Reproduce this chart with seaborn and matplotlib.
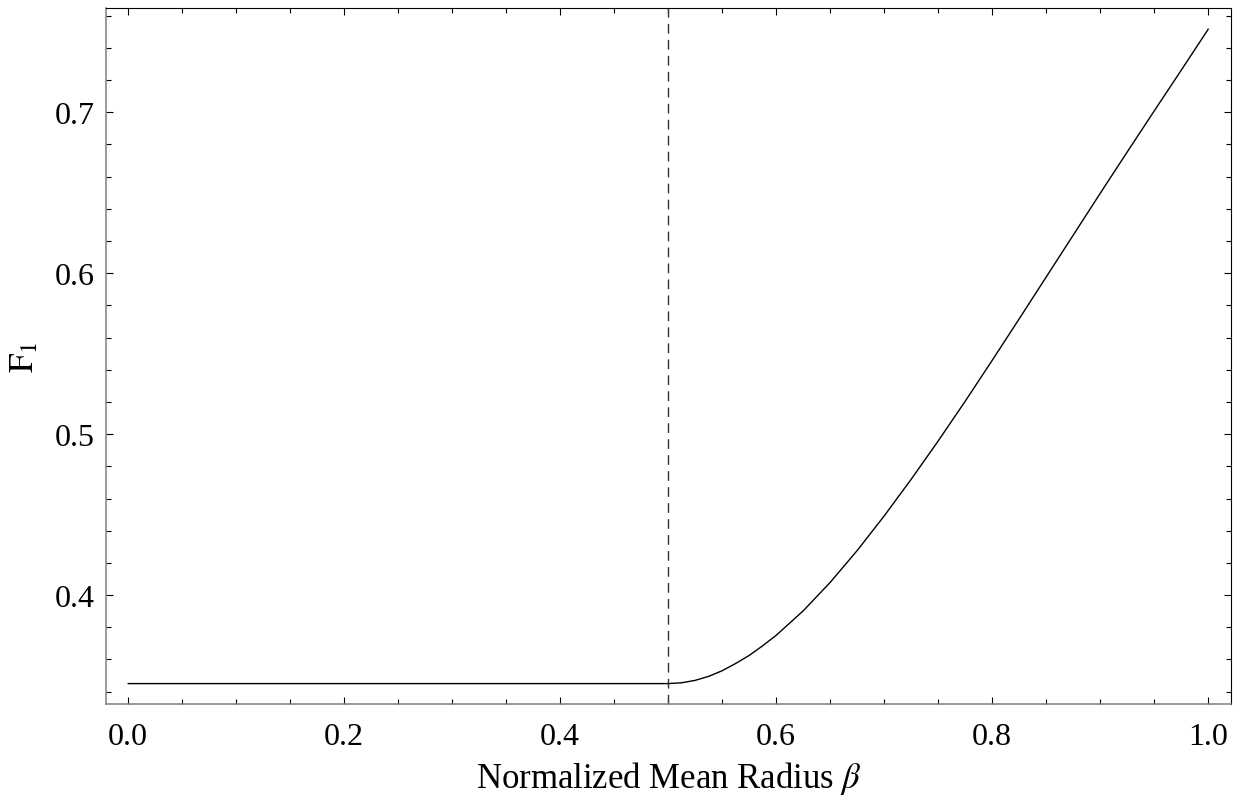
import matplotlib
matplotlib.use("Agg")
import matplotlib.pyplot as plt
import seaborn as sns
import pandas as pd
from matplotlib.ticker import MultipleLocator

# values
beta = [0.0, 0.5, 0.5125, 0.525, 0.5375, 0.55, 0.5625, 0.575, 0.5875, 0.6,
        0.625, 0.65, 0.675, 0.7, 0.725, 0.75, 0.775, 0.8, 0.825, 0.85,
        0.875, 0.9, 0.925, 0.95, 0.975, 1.0]
f1 = [0.345, 0.345, 0.3455, 0.347, 0.3495, 0.353, 0.3575, 0.3625, 0.3685,
      0.375, 0.3902, 0.4079, 0.4277, 0.4492, 0.472, 0.4958, 0.5205, 0.5459,
      0.5717, 0.5977, 0.6237, 0.6497, 0.6754, 0.7009, 0.7262, 0.7517]
threshold = 0.5

x_ticks = [0.0, 0.2, 0.4, 0.6, 0.8, 1.0]
y_ticks = [0.4, 0.5, 0.6, 0.7]

df = pd.DataFrame({"beta": beta, "F1": f1})

sns.set_style("ticks")
plt.rcParams["font.family"] = ["Liberation Serif", "DejaVu Serif"]
plt.rcParams["mathtext.fontset"] = "stix"
plt.rcParams["text.color"] = "black"
plt.rcParams["axes.labelcolor"] = "black"
plt.rcParams["xtick.color"] = "black"
plt.rcParams["ytick.color"] = "black"

fig = plt.figure(figsize=(12.44, 8.04), dpi=100)
ax = fig.add_axes([0.0852, 0.1235, 0.9046, 0.8649])

sns.lineplot(data=df, x="beta", y="F1", ax=ax, color="black", linewidth=1.0)
ax.axvline(threshold, color="#333333", linewidth=1.0, linestyle=(0, (7, 4.5)))

ax.set_xlim(-0.0204, 1.0213)
ax.set_ylim(0.3325, 0.7646)
ax.set_xticks(x_ticks)
ax.set_xticklabels([f"{v:.1f}" for v in x_ticks])
ax.set_yticks(y_ticks)
ax.set_yticklabels([f"{v:.1f}" for v in y_ticks])
ax.xaxis.set_minor_locator(MultipleLocator(0.05))
ax.yaxis.set_minor_locator(MultipleLocator(0.02))

ax.tick_params(which="both", direction="in", top=True, right=True,
               color="black", labelcolor="black", width=0.8)
ax.tick_params(which="major", length=5.3, labelsize=23)
ax.tick_params(which="minor", length=3.4)
ax.tick_params(axis="x", which="major", pad=13)
ax.tick_params(axis="y", which="major", pad=8)

for side in ["left", "bottom"]:
    ax.spines[side].set_color("#7f7f7f")
    ax.spines[side].set_linewidth(1.1)
for side in ["top", "right"]:
    ax.spines[side].set_visible(True)
    ax.spines[side].set_color("black")
    ax.spines[side].set_linewidth(0.8)

ax.set_xlabel(r"Normalized Mean Radius $\beta$", fontsize=25, labelpad=6)
ax.set_ylabel(r"$\mathrm{F}_1$", fontsize=25, labelpad=10)

fig.savefig("out.png", dpi=100)
